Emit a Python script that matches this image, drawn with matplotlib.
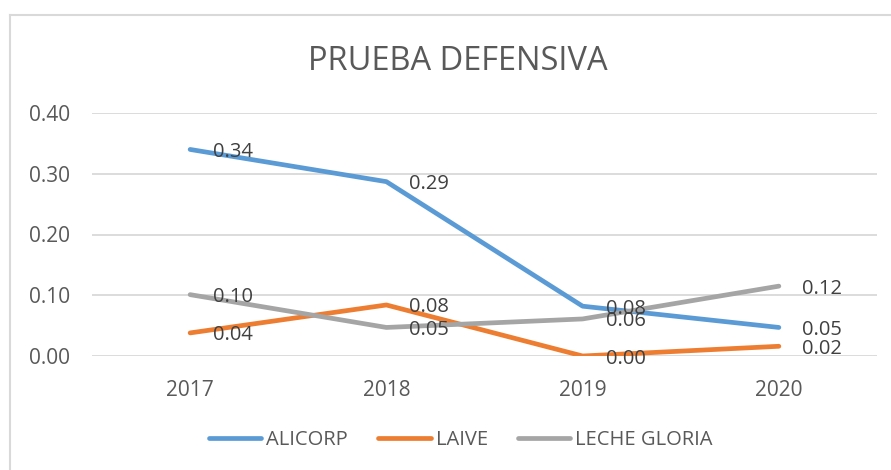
import matplotlib.pyplot as plt
from matplotlib.lines import Line2D

years = ['2017', '2018', '2019', '2020']
alicorp = [0.34, 0.287, 0.082, 0.047]
laive = [0.038, 0.084, 0.0, 0.016]
gloria = [0.101, 0.047, 0.061, 0.115]
names = ['ALICORP', 'LAIVE', 'LECHE GLORIA']
colors = ['#5B9BD5', '#ED7D31', '#A5A5A5']

plt.rcParams['font.family'] = ['Open Sans', 'DejaVu Sans']
txt = '#595959'

fig = plt.figure(figsize=(8.91, 4.70), dpi=100)
ax = fig.add_axes([92/891, 114/470, 785/891, 243/470])

x = range(len(years))
for vals, name, c in zip([alicorp, laive, gloria], names, colors):
    ax.plot(x, vals, color=c, lw=3.4, solid_capstyle='round', label=name, zorder=3)
    for i, v in enumerate(vals):
        ax.annotate('%.2f' % v, (i, v), xytext=(16.5, 0), textcoords='offset points',
                    ha='left', va='center_baseline', fontsize=14.5, color='#404040', zorder=4)

ax.set_xlim(-0.5, 3.5)
ax.set_ylim(0, 0.4)
ax.set_yticks([0, 0.1, 0.2, 0.3, 0.4])
ax.set_yticklabels(['%.2f' % t for t in [0, 0.1, 0.2, 0.3, 0.4]])
ax.set_xticks(list(x))
ax.set_xticklabels(years)
ax.tick_params(length=0, labelsize=15, labelcolor=txt)
ax.tick_params(axis='y', pad=16)
ax.tick_params(axis='x', pad=17)
ax.grid(axis='y', color='#D9D9D9', lw=1.3)
ax.set_axisbelow(True)
for s in ax.spines.values():
    s.set_visible(False)

fig.text(458/891, 1 - 62/470, 'PRUEBA DEFENSIVA', ha='center', va='center',
         fontsize=23.5, color=txt)

handles = [Line2D([0], [0], color=c, lw=3.4, solid_capstyle='round') for c in colors]
fig.legend(handles, names, loc='center', bbox_to_anchor=(461/891, 1 - 440/470),
           ncol=3, frameon=False, fontsize=14.5, labelcolor=txt,
           handlelength=2.6, handletextpad=0.25, columnspacing=1.5)

# chart border (only left and top visible in the crop)
fig.add_artist(Line2D([10/891, 10/891], [0, 1 - 15/470], color='#D9D9D9', lw=1.5))
fig.add_artist(Line2D([10/891, 1], [1 - 15/470, 1 - 15/470], color='#D9D9D9', lw=1.5))

fig.savefig('out.png', dpi=100, facecolor='white')
